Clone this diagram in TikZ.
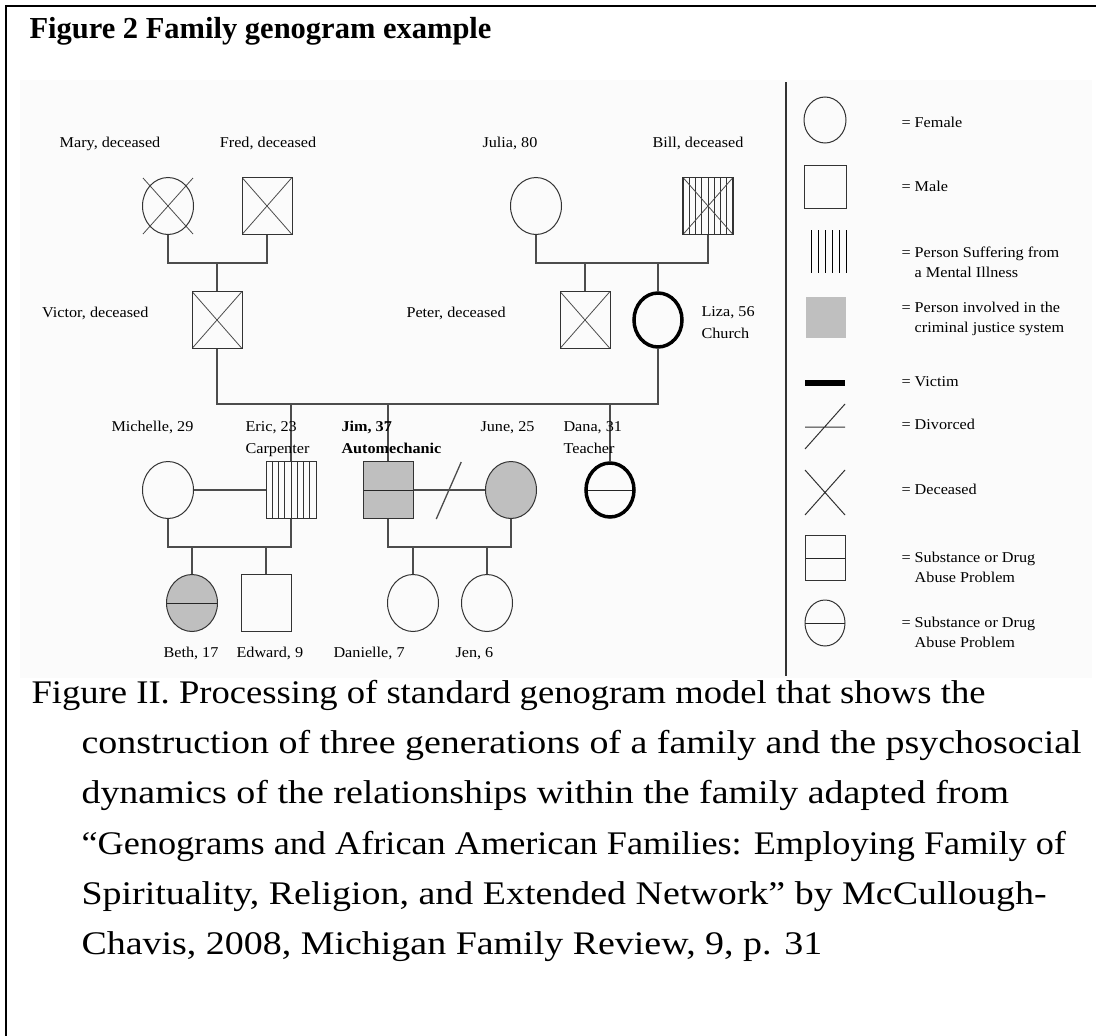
\documentclass[tikz,border=0pt]{standalone}
\usepackage{fontspec}
\setmainfont{Liberation Serif}
\newfontfamily\genofont[FakeStretch=1.08]{Liberation Serif}
\newfontfamily\capfont[FakeStretch=1.15]{Liberation Serif}
\usetikzlibrary{positioning,shapes.geometric,calc}

\begin{document}
\begin{tikzpicture}[x=1pt,y=-1pt,on grid,node distance=50pt,
    font=\genofont\fontsize{15}{20}\selectfont]
  \tikzstyle{fem}=[ellipse,draw=black!80,line width=1pt,minimum width=51pt,minimum height=57pt,inner sep=0pt]
  \tikzstyle{mal}=[rectangle,draw=black!80,line width=1pt,minimum width=50pt,minimum height=57pt,inner sep=0pt]
  \tikzstyle{dead}=[path picture={\draw[black!70,line width=0.8pt]
      (path picture bounding box.north west) -- (path picture bounding box.south east)
      (path picture bounding box.north east) -- (path picture bounding box.south west);}]
  \tikzstyle{ill}=[path picture={\foreach \k in {1,...,7}{\draw[line width=1pt]
      ($(path picture bounding box.north west)!\k/8!(path picture bounding box.north east)$) --
      ($(path picture bounding box.south west)!\k/8!(path picture bounding box.south east)$);}}]
  \tikzstyle{illdead}=[path picture={\foreach \k in {1,...,7}{\draw[line width=1pt]
      ($(path picture bounding box.north west)!\k/8!(path picture bounding box.north east)$) --
      ($(path picture bounding box.south west)!\k/8!(path picture bounding box.south east)$);}
      \draw[black!70,line width=0.8pt]
      (path picture bounding box.north west) -- (path picture bounding box.south east)
      (path picture bounding box.north east) -- (path picture bounding box.south west);}]
  \tikzstyle{drug}=[path picture={\draw[black!85,line width=1pt]
      (path picture bounding box.west) -- (path picture bounding box.east);}]
  \tikzstyle{crime}=[fill=black!25]
  \tikzstyle{victim}=[draw=black,line width=3.5pt,minimum width=48pt,minimum height=54pt]
  \tikzstyle{tie}=[draw=black!70,line width=1.3pt]
  \tikzstyle{tag}=[anchor=base west]

  \useasboundingbox (0,0) rectangle (1096,1036);
  \fill[black!1.5] (20,80) rectangle (1092,678);
  \draw[line width=2pt] (6,1036) -- (6,6) -- (1096,6);

  \node[anchor=base west,font=\bfseries\fontsize{30.5}{36}\selectfont] (title) at (26,38) {Figure 2 Family genogram example};

  % grandparents
  \node[fem] (mary) at (168,206) {};
  \node[mal,dead] (fred) [right=99pt of mary] {};
  \node[fem] (julia) at (536,206) {};
  \node[mal,illdead,line width=1.8pt] (bill) [right=172pt of julia] {};
  \draw[black!70,line width=0.8pt] ($(mary.center)+(-25,-28)$) -- ($(mary.center)+(25,28)$)
                                   ($(mary.center)+(25,-28)$) -- ($(mary.center)+(-25,28)$);

  % parents
  \node[mal,dead] (victor) at (217,320) {};
  \node[mal,dead] (peter) at (585,320) {};
  \node[fem,victim] (liza) [right=73pt of peter] {};

  % children
  \node[fem] (michelle) at (168,490) {};
  \node[mal,ill] (eric) [right=123pt of michelle] {};
  \node[mal,crime,drug] (jim) [right=97pt of eric] {};
  \node[fem,crime] (june) [right=123pt of jim] {};
  \node[fem,victim,drug] (dana) [right=99pt of june] {};

  % grandchildren
  \node[fem,crime,drug] (beth) at (192,603) {};
  \node[mal] (edward) [right=74pt of beth] {};
  \node[fem] (danielle) [right=147pt of edward] {};
  \node[fem] (jen) [right=74pt of danielle] {};

  % unions
  \coordinate (u_mf) at (217,263);
  \coordinate (u_jb) at (622,263);
  \coordinate (u_vl) at (437,404);
  \coordinate (u_me) at (229,547);
  \coordinate (u_jj) at (450,547);
  \coordinate (split) at ($(jim.east)!0.5!(june.west)$);

  \draw[tie] (mary) |- (u_mf) -| (fred);
  \draw[tie] (u_mf) -- (victor);
  \draw[tie] (julia) |- (u_jb) -| (bill);
  \draw[tie] (peter) -- (peter |- u_jb);
  \draw[tie] (liza) -- (liza |- u_jb);
  \draw[tie] (victor) |- (u_vl) -| (liza);
  \draw[tie] (eric) -- (eric |- u_vl);
  \draw[tie] (jim) -- (jim |- u_vl);
  \draw[tie] (dana) -- (dana |- u_vl);
  \path[tie] (michelle) edge (eric)
             (jim) edge (june);
  \draw[tie] ($(split)+(-13,29)$) -- ($(split)+(12,-28)$);
  \draw[tie] (michelle) |- (u_me) -| (eric);
  \draw[tie] (beth) -- (beth |- u_me);
  \draw[tie] (edward) -- (edward |- u_me);
  \draw[tie] (jim) |- (u_jj) -| (june);
  \draw[tie] (danielle) -- (danielle |- u_jj);
  \draw[tie] (jen) -- (jen |- u_jj);

  % names
  \node[anchor=base] (n_mary) at (110,147) {Mary, deceased};
  \node[anchor=base] (n_fred) at (268,147) {Fred, deceased};
  \node[anchor=base] (n_julia) at (510,147) {Julia, 80};
  \node[anchor=base] (n_bill) at (698,147) {Bill, deceased};
  \node[anchor=base east] (n_victor) at (152,317) {Victor, deceased};
  \node[tag] (n_peter) at (403,317) {Peter, deceased};
  \node[tag] (n_liza) at (698,316) {Liza, 56};
  \node[tag] (n_liza2) at (698,338) {Church};
  \node[tag] (n_michelle) at (108,431) {Michelle, 29};
  \node[tag] (n_eric) at (242,431) {Eric, 23};
  \node[tag] (n_eric2) at (242,453) {Carpenter};
  \node[tag,font=\genofont\bfseries\fontsize{15}{20}\selectfont] (n_jim) at (338,431) {Jim, 37};
  \node[tag,font=\genofont\bfseries\fontsize{15}{20}\selectfont] (n_jim2) at (338,453) {Automechanic};
  \node[tag] (n_june) at (477,431) {June, 25};
  \node[tag] (n_dana) at (560,431) {Dana, 31};
  \node[tag] (n_dana2) at (560,453) {Teacher};
  \node[tag] (n_beth) at (160,657) {Beth, 17};
  \node[tag] (n_edward) at (233,657) {Edward, 9};
  \node[tag] (n_danielle) at (330,657) {Danielle, 7};
  \node[tag] (n_jen) at (452,657) {Jen, 6};

  % key
  \draw[line width=1.5pt,black!80] (786,82) -- (786,676);
  \node[fem,minimum width=42pt,minimum height=46pt] (key_f) at (825,120) {};
  \node[mal,minimum width=42pt,minimum height=43pt] (key_m) at (825,187) {};
  \foreach \x in {811,818,...,846} \draw[line width=1pt] (\x,230) -- (\x,273);
  \node[crime,minimum width=40pt,minimum height=41pt] (key_c) at (826,317) {};
  \draw[line width=6pt] (805,383) -- (845,383);
  \draw[line width=1pt,black!80] (805,427) -- (845,427) (805,449) -- (845,404);
  \draw[line width=1pt,black!80] (805,470) -- (845,515) (845,470) -- (805,515);
  \node[mal,drug,minimum width=40pt,minimum height=45pt] (key_d1) at (825,558) {};
  \node[fem,drug,minimum width=40pt,minimum height=46pt] (key_d2) at (825,623) {};

  \node[anchor=west] (t_f) at (898,122) {= Female};
  \node[anchor=west] (t_m) at (898,186) {= Male};
  \node[anchor=west,align=left] (t_i) at (898,262) {= Person Suffering from\\\hphantom{= }a Mental Illness};
  \node[anchor=west,align=left] (t_c) at (898,319) {= Person involved in the\\\hphantom{= }criminal justice system};
  \node[anchor=west] (t_v) at (898,382) {= Victim};
  \node[anchor=west] (t_dv) at (898,424) {= Divorced};
  \node[anchor=west] (t_dc) at (898,489) {= Deceased};
  \node[anchor=west,align=left] (t_d1) at (898,567) {= Substance or Drug\\\hphantom{= }Abuse Problem};
  \node[anchor=west,align=left] (t_d2) at (898,632) {= Substance or Drug\\\hphantom{= }Abuse Problem};

  % caption
  \begin{scope}[font=\capfont\fontsize{33}{40}\selectfont]
    \node[tag] (cap_1) at (28,703) {\scalebox{0.965}[1]{Figure II. Processing of standard genogram model that shows the}};
    \node[tag] (cap_2) at (78,753) {construction of three generations of a family and the psychosocial};
    \node[tag] (cap_3) at (78,803) {dynamics of the relationships within the family adapted from};
    \node[tag] (cap_4) at (78,854) {\scalebox{0.955}[1]{“Genograms and African American Families: Employing Family of}};
    \node[tag] (cap_5) at (78,904) {Spirituality, Religion, and Extended Network” by McCullough-};
    \node[tag] (cap_6) at (78,954) {Chavis, 2008, Michigan Family Review, 9, p. 31};
  \end{scope}
\end{tikzpicture}
\end{document}
